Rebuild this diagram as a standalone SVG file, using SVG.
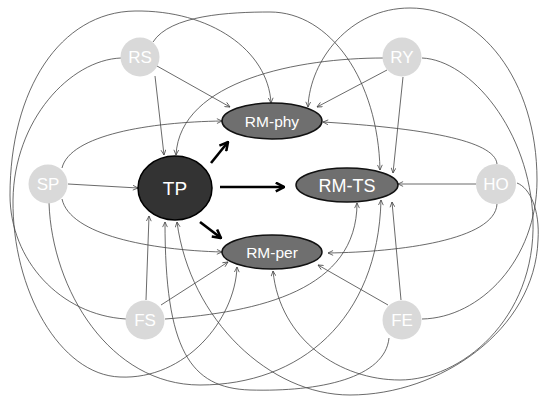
<svg xmlns="http://www.w3.org/2000/svg" width="541" height="396" viewBox="0 0 541 396">
<style>
.c{fill:none;stroke:#444;stroke-width:0.8;marker-end:url(#a)}
.t{fill:none;stroke:#000;stroke-width:2.6;marker-end:url(#b)}
.p{fill:#d9d9d9}
.rm{fill:#6f6f6f;stroke:#111;stroke-width:1.5}
.lab{fill:#fff;font-family:"Liberation Sans",Arial,sans-serif;text-anchor:middle}
</style>
<defs>
<marker id="a" viewBox="0 0 10 10" refX="9.5" refY="5" markerWidth="6" markerHeight="6" markerUnits="userSpaceOnUse" orient="auto"><path d="M1,1 L9.5,5 L1,9" fill="none" stroke="#444" stroke-width="1.3"/></marker>
<marker id="b" viewBox="0 0 10 10" refX="9" refY="5" markerWidth="11" markerHeight="11" markerUnits="userSpaceOnUse" orient="auto"><path d="M1.5,1 L9,5 L1.5,9" fill="none" stroke="#000" stroke-width="2.3"/></marker>
</defs>
<rect width="541" height="396" fill="#fff"/>
<g id="connectors">
<path class="c" d="M126,319 C60,315 10,260 10,195 C10,90 60,12 135,11 C210,10 268,50 271,103"/>
<path class="c" d="M121,58 C70,60 14,120 13,200 C12,290 60,375 120,377 C185,380 235,320 237,267"/>
<path class="c" d="M49,203 C52,290 110,385 200,385 C300,385 378,320 381,200"/>
<path class="c" d="M165,319 C260,312 357,290 357,203"/>
<path class="c" d="M389,338 C385,378 320,392 250,390 C190,388 165,350 165,222"/>
<path class="c" d="M517,183 C530,188 540,210 538,240 C535,330 440,395 350,395 C270,395 190,320 177,222"/>
<path class="c" d="M422,58 C470,60 530,130 533,220 C536,320 460,380 400,380 C340,380 280,340 273,271"/>
<path class="c" d="M422,319 C480,318 537,260 537,180 C537,80 480,8 410,8 C350,8 310,60 308,107"/>
<path class="c" d="M153,42 C170,15 230,12 270,12 C330,12 378,80 380,170"/>
<path class="c" d="M383,58 C300,58 180,80 176,155"/>
<path class="c" d="M62,168 C70,135 150,122 222,121"/>
<path class="c" d="M62,199 C70,235 150,250 222,252"/>
<path class="c" d="M497,164 C495,140 420,128 323,122"/>
<path class="c" d="M497,204 C495,240 400,252 328,253"/>
<path class="c" d="M155,76 L164,155"/>
<path class="c" d="M157,66 L230,107"/>
<path class="c" d="M387,70 L317,107"/>
<path class="c" d="M403,77 L393,173"/>
<path class="c" d="M476,184 L398,184"/>
<path class="c" d="M68,184 L138,188"/>
<path class="c" d="M146,300 L149,216"/>
<path class="c" d="M161,305 L228,262"/>
<path class="c" d="M388,305 L318,265"/>
<path class="c" d="M401,300 L392,202"/>
<path class="t" d="M211,163 L228,142"/>
<path class="t" d="M220,187 L284,187"/>
<path class="t" d="M200,222 L221,238"/>
</g>
<g id="RS"><circle class="p" cx="140" cy="57" r="19.5"/><text class="lab" x="140" y="63" font-size="17">RS</text></g>
<g id="RY"><circle class="p" cx="402" cy="57" r="19.5"/><text class="lab" x="402" y="63" font-size="17">RY</text></g>
<g id="SP"><circle class="p" cx="48" cy="184" r="19.5"/><text class="lab" x="48" y="190" font-size="17">SP</text></g>
<g id="HO"><circle class="p" cx="496" cy="184" r="20"/><text class="lab" x="496" y="190" font-size="17">HO</text></g>
<g id="FS"><circle class="p" cx="145" cy="320" r="19.5"/><text class="lab" x="145" y="326" font-size="17">FS</text></g>
<g id="FE"><circle class="p" cx="402" cy="320" r="19.5"/><text class="lab" x="402" y="326" font-size="17">FE</text></g>
<g id="TP"><ellipse cx="175" cy="188" rx="37" ry="32" fill="#333" stroke="#000" stroke-width="1.5"/><text class="lab" x="175" y="195" font-size="19">TP</text></g>
<g id="RM-phy"><ellipse class="rm" cx="272" cy="121" rx="50" ry="18"/><text class="lab" x="272" y="126.5" font-size="15.5">RM-phy</text></g>
<g id="RM-TS"><ellipse class="rm" cx="347" cy="185" rx="51" ry="17"/><text class="lab" x="347" y="191.5" font-size="18">RM-TS</text></g>
<g id="RM-per"><ellipse class="rm" cx="272" cy="252" rx="50" ry="17"/><text class="lab" x="272" y="257.5" font-size="15.5">RM-per</text></g>
</svg>
